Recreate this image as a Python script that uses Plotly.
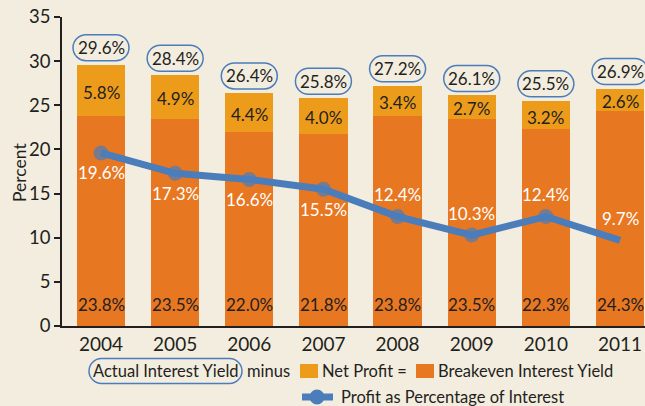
import plotly.graph_objects as go

years = ["2004", "2005", "2006", "2007", "2008", "2009", "2010", "2011"]
breakeven_yield = [23.8, 23.5, 22.0, 21.8, 23.8, 23.5, 22.3, 24.3]
net_profit = [5.8, 4.9, 4.4, 4.0, 3.4, 2.7, 3.2, 2.6]
actual_yield = [29.6, 28.4, 26.4, 25.8, 27.2, 26.1, 25.5, 26.9]
profit_pct_interest = [19.6, 17.3, 16.6, 15.5, 12.4, 10.3, 12.4, 9.7]
y_ticks = [0, 5, 10, 15, 20, 25, 30, 35]

W, H = 645, 406
ML, MR, MT, MB = 62, 0, 17, 80
BG = "#F3EDDF"
ORANGE = "#E87722"
YELLOW = "#EC9C1A"
BLUE = "#4A7DBA"
DARK = "#231F20"
FONT = "Lato, 'Open Sans', sans-serif"

xs = list(range(len(years)))


def px_x(p):
    return (p - ML) / (W - ML - MR)


def px_y(p):
    return (H - MB - p) / (H - MT - MB)


def pill_path(w, h, cy=0.0):
    r = h / 2.0
    k = 0.5523 * r
    x0, x1 = -w / 2.0, w / 2.0
    y0, y1 = cy - h / 2.0, cy + h / 2.0
    return (
        f"M {x0 + r},{y0} L {x1 - r},{y0} "
        f"C {x1 - r + k},{y0} {x1},{y0 + r - k} {x1},{y0 + r} "
        f"C {x1},{y1 - r + k} {x1 - r + k},{y1} {x1 - r},{y1} "
        f"L {x0 + r},{y1} "
        f"C {x0 + r - k},{y1} {x0},{y1 - r + k} {x0},{y1 - r} "
        f"C {x0},{y0 + r - k} {x0 + r - k},{y0} {x0 + r},{y0} Z"
    )


fig = go.Figure()
fig.add_trace(go.Bar(x=xs, y=breakeven_yield, marker=dict(color=ORANGE, line=dict(width=0)),
                     name="Breakeven Interest Yield", showlegend=False, hoverinfo="skip"))
fig.add_trace(go.Bar(x=xs, y=net_profit, marker=dict(color=YELLOW, line=dict(width=0)),
                     name="Net Profit", showlegend=False, hoverinfo="skip"))
marker_sizes = [15] * (len(xs) - 1) + [0]
fig.add_trace(go.Scatter(x=xs, y=profit_pct_interest, mode="lines+markers",
                         line=dict(color=BLUE, width=7),
                         marker=dict(color=BLUE, size=marker_sizes, line=dict(width=0)),
                         name="Profit as Percentage of Interest", showlegend=False,
                         hoverinfo="skip"))

annotations = []
shapes = []
for i, x in enumerate(xs):
    annotations.append(dict(x=x, y=actual_yield[i], yshift=17, text=f"{actual_yield[i]:.1f}%",
                            showarrow=False, font=dict(size=17, color=DARK, family=FONT)))
    shapes.append(dict(type="path", xref="x", yref="y", xsizemode="pixel", ysizemode="pixel",
                       xanchor=x, yanchor=actual_yield[i], path=pill_path(56, 26, 17),
                       line=dict(color=BLUE, width=1.5), fillcolor="rgba(0,0,0,0)"))
    annotations.append(dict(x=x, y=breakeven_yield[i] + net_profit[i] / 2, yshift=-2,
                            text=f"{net_profit[i]:.1f}%", showarrow=False,
                            font=dict(size=17, color=DARK, family=FONT)))
    annotations.append(dict(x=x, y=0, yshift=22, text=f"{breakeven_yield[i]:.1f}%",
                            showarrow=False, font=dict(size=17, color=DARK, family=FONT)))
    above = i >= 4
    annotations.append(dict(x=x, y=profit_pct_interest[i], yshift=22 if above else -20,
                            text=f"{profit_pct_interest[i]:.1f}%", showarrow=False,
                            font=dict(size=17, color="white", family=FONT)))

annotations.append(dict(xref="paper", yref="paper", x=px_x(19), y=px_y(173), text="Percent",
                        textangle=-90, showarrow=False, xanchor="center", yanchor="middle",
                        font=dict(size=17.5, color=DARK, family=FONT)))

LEG_FONT = dict(size=16.5, color=DARK, family=FONT)
ly1, ly2 = 371, 397
shapes.append(dict(type="path", xref="paper", yref="paper", xsizemode="pixel", ysizemode="pixel",
                   xanchor=px_x(165.5), yanchor=px_y(ly1), path=pill_path(153, 25),
                   line=dict(color=BLUE, width=1.5), fillcolor="rgba(0,0,0,0)"))
annotations.append(dict(xref="paper", yref="paper", x=px_x(166), y=px_y(ly1), text="Actual Interest Yield",
                        showarrow=False, xanchor="center", yanchor="middle", font=LEG_FONT))
annotations.append(dict(xref="paper", yref="paper", x=px_x(245), y=px_y(ly1), text="minus",
                        showarrow=False, xanchor="left", yanchor="middle", font=LEG_FONT))
shapes.append(dict(type="rect", xref="paper", yref="paper", x0=px_x(300), x1=px_x(318),
                   y0=px_y(378), y1=px_y(364), fillcolor=YELLOW, line=dict(width=0)))
annotations.append(dict(xref="paper", yref="paper", x=px_x(320), y=px_y(ly1), text="Net Profit =",
                        showarrow=False, xanchor="left", yanchor="middle", font=LEG_FONT))
shapes.append(dict(type="rect", xref="paper", yref="paper", x0=px_x(416), x1=px_x(434),
                   y0=px_y(378), y1=px_y(364), fillcolor=ORANGE, line=dict(width=0)))
annotations.append(dict(xref="paper", yref="paper", x=px_x(436), y=px_y(ly1), text="Breakeven Interest Yield",
                        showarrow=False, xanchor="left", yanchor="middle", font=LEG_FONT))
shapes.append(dict(type="line", xref="paper", yref="paper", x0=px_x(302), x1=px_x(333),
                   y0=px_y(ly2), y1=px_y(ly2), line=dict(color=BLUE, width=7)))
shapes.append(dict(type="circle", xref="paper", yref="paper", xsizemode="pixel", ysizemode="pixel",
                   xanchor=px_x(317), yanchor=px_y(ly2), x0=-7.5, x1=7.5, y0=-7.5, y1=7.5,
                   fillcolor=BLUE, line=dict(width=0)))
annotations.append(dict(xref="paper", yref="paper", x=px_x(339), y=px_y(ly2),
                        text="Profit as Percentage of Interest",
                        showarrow=False, xanchor="left", yanchor="middle", font=LEG_FONT))

fig.update_layout(
    width=W, height=H,
    margin=dict(l=ML, r=MR, t=MT, b=MB, pad=0),
    paper_bgcolor=BG, plot_bgcolor=BG,
    barmode="stack", bargap=0.35,
    showlegend=False,
    font=dict(family=FONT, color=DARK),
    xaxis=dict(range=[-0.526, 7.337], tickvals=xs, ticktext=years, showgrid=False, zeroline=False,
               showline=True, linecolor=DARK, linewidth=1.5, ticks="",
               tickfont=dict(size=19, color=DARK, family=FONT), fixedrange=True),
    yaxis=dict(range=[0, 35], tickvals=y_ticks, showgrid=False, zeroline=False,
               showline=True, linecolor=DARK, linewidth=1.5, ticks="outside", ticklen=6,
               tickwidth=1.5, tickcolor=DARK, tickfont=dict(size=18.5, color=DARK, family=FONT),
               fixedrange=True),
    annotations=annotations,
    shapes=shapes,
)

fig.write_html(
    "out.html",
    config={"displayModeBar": False},
    post_script="document.body.style.margin='0';document.body.style.padding='0';"
                "document.body.style.overflow='hidden';"
                "document.documentElement.style.overflow='hidden';",
)
